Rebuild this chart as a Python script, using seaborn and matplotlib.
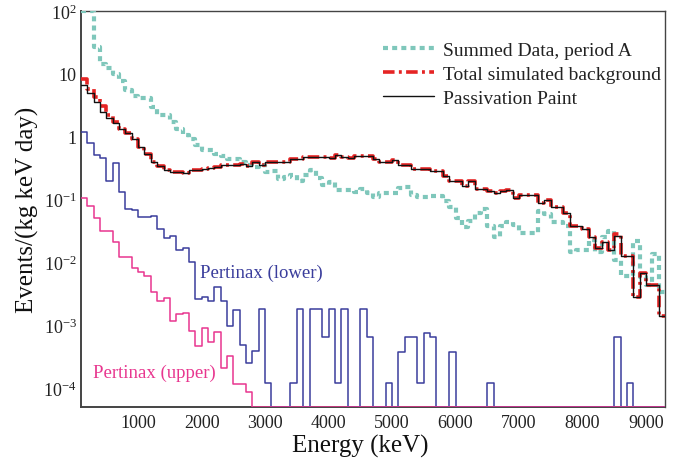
import numpy as np
import pandas as pd
import matplotlib
matplotlib.use("Agg")
import matplotlib.pyplot as plt
import seaborn as sns
from matplotlib.ticker import FixedLocator, MultipleLocator, FuncFormatter, NullFormatter
from matplotlib.lines import Line2D

# ---------------- data (100 keV bins, low edges 100 ... 9200 keV) ----------------
bin_width_kev = 100
first_edge_kev = 100
n_bins = 92

summed_data = [100, 100, 27, 14.5, 12.3, 10, 7.7, 5.5, 4.4, 4.1,
               4.1, 3.0, 2.2, 2.2, 1.7, 1.33, 1.06, 0.91, 0.74, 0.61,
               0.61, 0.54, 0.50, 0.44, 0.44, 0.39, 0.36, 0.33, 0.36, 0.27,
               0.28, 0.21, 0.23, 0.25, 0.20, 0.25, 0.29, 0.22, 0.17, 0.19,
               0.14, 0.14, 0.14, 0.13, 0.145, 0.125, 0.11, 0.126, 0.126, 0.126,
               0.155, 0.16, 0.117, 0.11, 0.11, 0.112, 0.112, 0.096, 0.075, 0.051,
               0.036, 0.046, 0.062, 0.070, 0.038, 0.025, 0.038, 0.044, 0.040, 0.029,
               0.029, 0.029, 0.066, 0.059, 0.044, 0.044, 0.038, 0.0145, 0.016, 0.016,
               0.023, 0.0145, 0.025, 0.032, 0.011, 0.0061, 0.0061, 0.022, 0.0058, 0.0043,
               0.0134, 0.0034]

total_simulated = [8.3, 5.8, 4.3, 3.1, 2.2, 1.7, 1.34, 1.14, 0.93, 0.68,
                   0.53, 0.39, 0.34, 0.29, 0.27, 0.27, 0.265, 0.29, 0.30, 0.31,
                   0.32, 0.33, 0.35, 0.35, 0.353, 0.37, 0.345, 0.39, 0.36, 0.40,
                   0.40, 0.39, 0.40, 0.44, 0.44, 0.48, 0.48, 0.48, 0.47, 0.465,
                   0.52, 0.48, 0.46, 0.49, 0.49, 0.49, 0.44, 0.40, 0.40, 0.42,
                   0.353, 0.353, 0.31, 0.31, 0.31, 0.28, 0.28, 0.235, 0.195, 0.195,
                   0.167, 0.20, 0.146, 0.146, 0.138, 0.127, 0.138, 0.14, 0.104, 0.117,
                   0.117, 0.117, 0.088, 0.10, 0.075, 0.075, 0.062, 0.038, 0.038, 0.034,
                   0.025, 0.017, 0.021, 0.016, 0.028, 0.0126, 0.0126, 0.0028, 0.0068, 0.0043,
                   0.0043, 0.0014]

passivation_paint = [6.6, 4.9, 3.6, 2.47, 2.0, 1.64, 1.34, 1.14, 0.93, 0.68,
                     0.53, 0.39, 0.34, 0.29, 0.27, 0.27, 0.265, 0.29, 0.30, 0.31,
                     0.32, 0.33, 0.35, 0.35, 0.353, 0.37, 0.345, 0.39, 0.36, 0.40,
                     0.40, 0.39, 0.40, 0.44, 0.44, 0.48, 0.48, 0.48, 0.47, 0.465,
                     0.52, 0.48, 0.46, 0.49, 0.49, 0.49, 0.44, 0.40, 0.40, 0.42,
                     0.353, 0.353, 0.31, 0.31, 0.31, 0.28, 0.28, 0.235, 0.195, 0.195,
                     0.167, 0.20, 0.146, 0.146, 0.138, 0.127, 0.138, 0.14, 0.104, 0.117,
                     0.117, 0.117, 0.088, 0.10, 0.075, 0.075, 0.062, 0.038, 0.038, 0.034,
                     0.025, 0.017, 0.021, 0.016, 0.026, 0.0126, 0.0126, 0.0028, 0.0068, 0.0043,
                     0.0043, 0.0014]

pertinax_lower = [1.17, 0.79, 0.51, 0.45, 0.20, 0.375, 0.13, 0.072, 0.068, 0.052,
                  0.052, 0.054, 0.034, 0.024, 0.026, 0.016, 0.017, 0.010, 0.0026, 0.0028,
                  0.0024, 0.004, 0.0024, 0.00098, 0.00175, 0.00048, 0.00025, 0.00039, 0.0018, 0.00012,
                  0, 0, 0, 0.00012, 0.0018, 0, 0.0018, 0.0018, 0.00064, 0.0018,
                  0.00012, 0.0018, 0, 0, 0.0018, 0.00064, 0, 0, 0.00012, 0,
                  0.00037, 0.00064, 0.00064, 0.00012, 0.00076, 0.00064, 0, 0, 0.00037, 0,
                  0, 0, 0, 0, 0.00012, 0, 0, 0, 0, 0,
                  0, 0, 0, 0, 0, 0, 0, 0, 0, 0,
                  0, 0, 0, 0, 0.00064, 0, 0.00012, 0, 0, 0,
                  0, 0]

pertinax_upper = [0.105, 0.079, 0.050, 0.032, 0.032, 0.021, 0.0124, 0.0124, 0.0080, 0.0070,
                  0.0061, 0.0034, 0.0024, 0.0027, 0.00117, 0.0015, 0.00154, 0.00081, 0.00047, 0.00089,
                  0.00055, 0.00079, 0.000205, 0.00032, 0.000115, 0.000115, 0.000087, 0, 0, 0,
                  0, 0, 0, 0, 0, 0, 0, 0, 0, 0,
                  0, 0, 0, 0, 0, 0, 0, 0, 0, 0,
                  0, 0, 0, 0, 0, 0, 0, 0, 0, 0,
                  0, 0, 0, 0, 0, 0, 0, 0, 0, 0,
                  0, 0, 0, 0, 0, 0, 0, 0, 0, 0,
                  0, 0, 0, 0, 0, 0, 0, 0, 0, 0,
                  0, 0]

x_ticks = [1000, 2000, 3000, 4000, 5000, 6000, 7000, 8000, 9000]
y_ticks = [1e-4, 1e-3, 1e-2, 1e-1, 1, 10, 100]
x_range = (100, 9300)
y_range = (5e-5, 100)

# ---------------- style ----------------
sns.set_style("white")
plt.rcParams["font.family"] = ["Liberation Serif", "DejaVu Serif"]
plt.rcParams["mathtext.fontset"] = "custom"
plt.rcParams["mathtext.rm"] = "Liberation Serif"

fig = plt.figure(figsize=(6.79, 4.60), dpi=100)
ax = fig.add_axes([81 / 679, 52 / 460, 584 / 679, 396 / 460])

edges = first_edge_kev + bin_width_kev * np.arange(n_bins + 1)


def step_frame(values):
    v = np.asarray(values, dtype=float)
    v = np.maximum(v, y_range[0])
    return pd.DataFrame({"E": edges, "v": np.append(v, v[-1])})


series = [
    (summed_data, dict(color="#7fc7bb", lw=3.0, linestyle=(0, (1.2, 1.0)), zorder=3)),
    (total_simulated, dict(color="#e52424", lw=2.6, linestyle=(0, (3.2, 1.2, 0.8, 1.2)), zorder=4)),
    (passivation_paint, dict(color="#111111", lw=1.0, linestyle="-", zorder=5)),
    (pertinax_lower, dict(color="#3a3d9c", lw=1.1, linestyle="-", zorder=4)),
    (pertinax_upper, dict(color="#e8368f", lw=1.1, linestyle="-", zorder=4)),
]
for vals, kw in series:
    df = step_frame(vals)
    sns.lineplot(data=df, x="E", y="v", ax=ax, drawstyle="steps-post",
                 estimator=None, sort=False, legend=False, **kw)

ax.set_yscale("log")
ax.set_xlim(*x_range)
ax.set_ylim(*y_range)

# ticks
ax.xaxis.set_major_locator(FixedLocator(x_ticks))
ax.xaxis.set_minor_locator(MultipleLocator(200))
ax.yaxis.set_major_locator(FixedLocator(y_ticks))
ax.yaxis.set_minor_locator(matplotlib.ticker.LogLocator(base=10, subs=np.arange(2, 10)))
ax.yaxis.set_minor_formatter(NullFormatter())


def yfmt(v, pos):
    e = int(round(np.log10(v)))
    if e == 0:
        return "1"
    if e == 1:
        return "10"
    return r"$\mathregular{10^{%d}}$" % e


ax.yaxis.set_major_formatter(FuncFormatter(yfmt))
ax.xaxis.set_major_formatter(FuncFormatter(lambda v, p: "%d" % v))
ax.tick_params(axis="x", which="major", direction="in", length=7, width=1.1,
               labelsize=13, pad=5, color="#222222", top=False)
ax.tick_params(axis="x", which="minor", direction="in", length=3.5, width=0.9,
               color="#222222", top=False)
ax.tick_params(axis="y", which="major", direction="in", length=11.5, width=1.1,
               labelsize=13, pad=3, color="#222222", right=False)
ax.tick_params(axis="y", which="minor", direction="in", length=5, width=0.9,
               color="#222222", right=False)
for lab in ax.get_xticklabels() + ax.get_yticklabels():
    lab.set_color("#222222")

for name, sp in ax.spines.items():
    sp.set_color("#444444")
    sp.set_linewidth(1.4 if name in ("left", "bottom") else 1.0)

ax.set_xlabel("Energy (keV)", fontsize=18, color="#111111")
ax.set_ylabel("Events/(kg keV day)", fontsize=18, color="#111111")
ax.xaxis.set_label_coords(0.478, -0.068)
ax.yaxis.set_label_coords(-0.072, 0.5)

ax.text(1980, 7e-3, "Pertinax (lower)", color="#3a3d9c", fontsize=13.5,
        ha="left", va="center")
ax.text(296, 1.78e-4, "Pertinax (upper)", color="#e8368f", fontsize=13.5,
        ha="left", va="center")

handles = [
    Line2D([], [], color="#7fc7bb", lw=3.0, linestyle=(0, (1.2, 1.0))),
    Line2D([], [], color="#e52424", lw=2.6, linestyle=(0, (3.2, 1.2, 0.8, 1.2))),
    Line2D([], [], color="#111111", lw=1.0),
]
labels = ["Summed Data, period A", "Total simulated background", "Passivation Paint"]
leg = ax.legend(handles, labels, loc="upper left", bbox_to_anchor=(383 / 679, 1 - 42 / 460),
                bbox_transform=fig.transFigure, frameon=False, fontsize=14,
                handlelength=2.6, handletextpad=0.5, labelspacing=0.33, borderpad=0,
                borderaxespad=0)
for t in leg.get_texts():
    t.set_color("#222222")

fig.savefig("out.png", dpi=100)
